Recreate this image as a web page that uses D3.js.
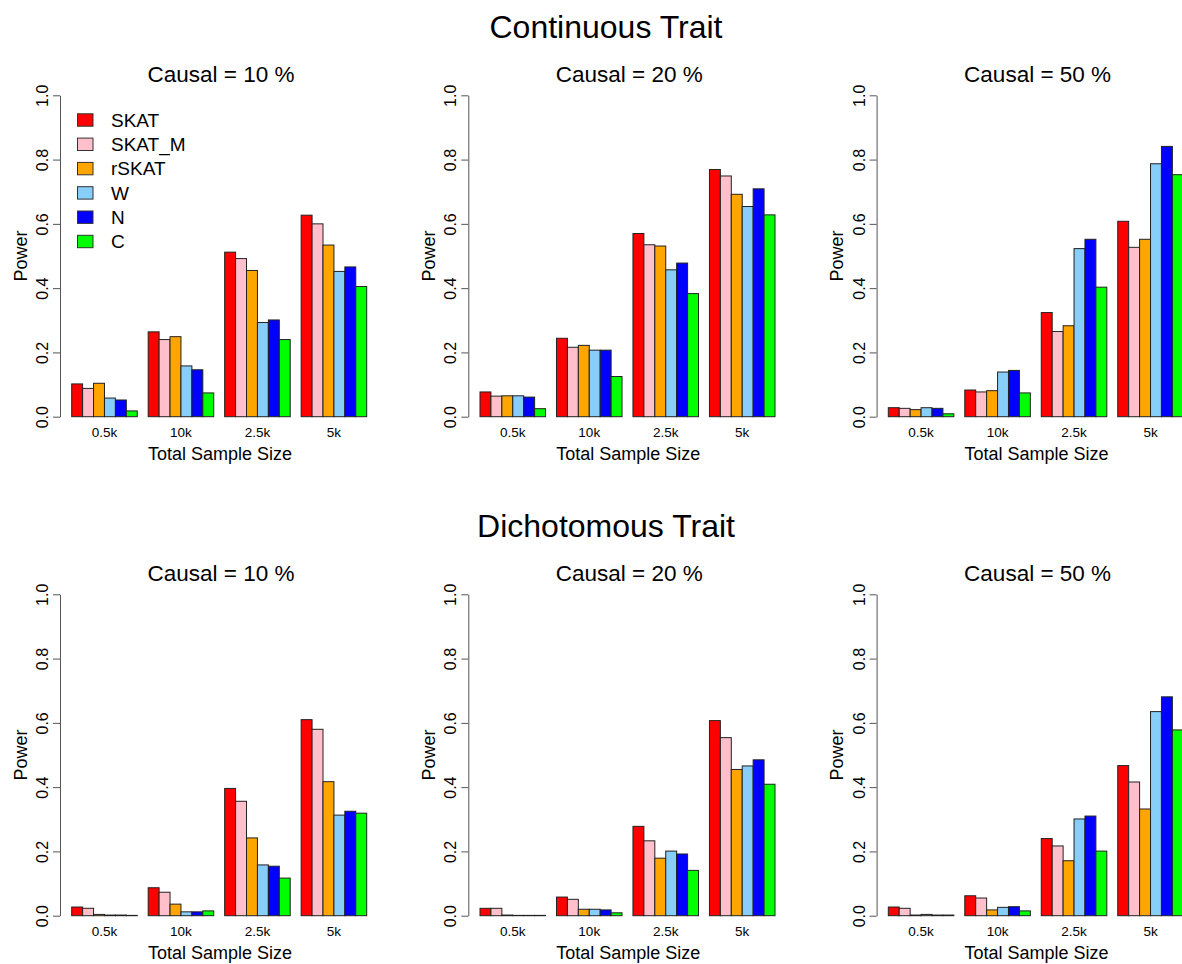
<!DOCTYPE html>
<html>
<head>
<meta charset="utf-8">
<script src="https://cdn.jsdelivr.net/npm/d3@7"></script>
<style>
  body { margin: 0; background: #fff; }
  svg { font-family: "Liberation Sans", Arial, Helvetica, sans-serif; display: block; }
</style>
</head>
<body>
<div id="chart"></div>
<script>
const sampleSizes = ["0.5k", "10k", "2.5k", "5k"];
const methods = ["SKAT", "SKAT_M", "rSKAT", "W", "N", "C"];
const methodColors = ["#ff0000", "#ffc0cb", "#ffa500", "#87cefa", "#0000ff", "#00ff00"];
const causalLabels = ["Causal = 10 %", "Causal = 20 %", "Causal = 50 %"];
const traitTitles = ["Continuous Trait", "Dichotomous Trait"];
const yTicks = [0, 0.2, 0.4, 0.6, 0.8, 1.0];

// power, one row per sample size, one value per method
const contTen = [
  [0.102, 0.088, 0.104, 0.058, 0.052, 0.018],
  [0.264, 0.240, 0.249, 0.158, 0.146, 0.074],
  [0.512, 0.492, 0.455, 0.293, 0.301, 0.240],
  [0.627, 0.600, 0.534, 0.452, 0.466, 0.405]
];
const contTwenty = [
  [0.077, 0.064, 0.065, 0.065, 0.061, 0.025],
  [0.244, 0.216, 0.222, 0.207, 0.207, 0.125],
  [0.570, 0.535, 0.531, 0.457, 0.478, 0.383],
  [0.769, 0.749, 0.692, 0.654, 0.709, 0.628]
];
const contFifty = [
  [0.028, 0.026, 0.022, 0.028, 0.026, 0.009],
  [0.083, 0.077, 0.081, 0.139, 0.144, 0.074],
  [0.324, 0.265, 0.283, 0.523, 0.552, 0.403],
  [0.608, 0.527, 0.552, 0.787, 0.841, 0.753]
];
const dichTen = [
  [0.027, 0.023, 0.004, 0.002, 0.002, 0.001],
  [0.087, 0.073, 0.036, 0.012, 0.012, 0.015],
  [0.396, 0.356, 0.242, 0.158, 0.154, 0.117],
  [0.610, 0.580, 0.417, 0.313, 0.325, 0.319]
];
const dichTwenty = [
  [0.023, 0.023, 0.002, 0.001, 0.001, 0.001],
  [0.058, 0.051, 0.020, 0.020, 0.018, 0.009],
  [0.278, 0.233, 0.179, 0.201, 0.192, 0.141],
  [0.607, 0.554, 0.455, 0.466, 0.485, 0.409]
];
const dichFifty = [
  [0.027, 0.023, 0.002, 0.004, 0.002, 0.002],
  [0.062, 0.055, 0.018, 0.026, 0.028, 0.015],
  [0.240, 0.217, 0.171, 0.301, 0.310, 0.201],
  [0.467, 0.416, 0.332, 0.635, 0.681, 0.578]
];
const panelData = [[contTen, contTwenty, contFifty], [dichTen, dichTwenty, dichFifty]];

const width = 1182, height = 964;
const colStep = 408.3, rowStep = 499;
const plotW = 318.5, axisTop = 95.3, axisBottom = 416.7;

const svg = d3.select("#chart").append("svg")
  .attr("width", width).attr("height", height)
  .attr("viewBox", "0 0 " + width + " " + height);
svg.append("rect").attr("width", width).attr("height", height).attr("fill", "#fff");

const color = d3.scaleOrdinal().domain(methods).range(methodColors);

traitTitles.forEach(function (title, r) {
  const oy = r * rowStep;
  svg.append("text")
    .attr("x", 606).attr("y", 38 + oy)
    .attr("text-anchor", "middle")
    .attr("font-size", "32px")
    .text(title);

  panelData[r].forEach(function (data, c) {
    const left = 60 + c * colStep;
    const g = svg.append("g").attr("transform", "translate(0," + oy + ")");

    const y = d3.scaleLinear().domain([0, 1]).range([axisBottom, axisTop]);
    const x0 = d3.scaleBand().domain(sampleSizes)
      .range([left + 11.7, left + 306.7])
      .paddingInner(1 / 7).paddingOuter(0);
    const x1 = d3.scaleBand().domain(methods).range([0, x0.bandwidth()]).padding(0);

    // bars
    const groups = g.selectAll("g.grp")
      .data(data)
      .enter().append("g")
      .attr("class", "grp")
      .attr("transform", function (d, i) { return "translate(" + x0(sampleSizes[i]) + ",0)"; });
    groups.selectAll("rect")
      .data(function (d) { return d.map(function (v, i) { return { key: methods[i], value: v }; }); })
      .enter().append("rect")
      .attr("x", function (d) { return x1(d.key); })
      .attr("y", function (d) { return y(d.value); })
      .attr("width", x1.bandwidth())
      .attr("height", function (d) { return y(0) - y(d.value); })
      .attr("fill", function (d) { return color(d.key); })
      .attr("stroke", "#222")
      .attr("stroke-width", 1);

    // y axis, R style: rotated labels
    const yAxis = g.append("g")
      .attr("transform", "translate(" + left + ",0)")
      .call(d3.axisLeft(y).tickValues(yTicks).tickSize(7).tickSizeOuter(0)
        .tickFormat(d3.format(".1f")));
    yAxis.select(".domain").attr("stroke", "#555");
    yAxis.selectAll(".tick line").attr("stroke", "#555");
    yAxis.selectAll(".tick text")
      .attr("font-size", "16px")
      .attr("fill", "#000")
      .attr("text-anchor", "middle")
      .attr("x", 0).attr("dy", 0)
      .attr("transform", "translate(-12,0) rotate(-90)");

    // group labels
    g.selectAll("text.grplab")
      .data(sampleSizes)
      .enter().append("text")
      .attr("class", "grplab")
      .attr("x", function (d) { return x0(d) + x0.bandwidth() / 2; })
      .attr("y", 437)
      .attr("text-anchor", "middle")
      .attr("font-size", "13.5px")
      .text(function (d) { return d; });

    g.append("text")
      .attr("x", left + 160).attr("y", 460)
      .attr("text-anchor", "middle")
      .attr("font-size", "18px")
      .text("Total Sample Size");

    g.append("text")
      .attr("transform", "translate(" + (left - 33.5) + "," + ((axisTop + axisBottom) / 2) + ") rotate(-90)")
      .attr("text-anchor", "middle")
      .attr("font-size", "18px")
      .text("Power");

    g.append("text")
      .attr("x", left + 161).attr("y", 82)
      .attr("text-anchor", "middle")
      .attr("font-size", "22.5px")
      .text(causalLabels[c]);

    // legend only in the first panel
    if (r === 0 && c === 0) {
      const leg = g.selectAll("g.leg")
        .data(methods)
        .enter().append("g")
        .attr("class", "leg")
        .attr("transform", function (d, i) { return "translate(77.5," + (120 + i * 24.3) + ")"; });
      leg.append("rect")
        .attr("x", 0).attr("y", -6.2)
        .attr("width", 15.5).attr("height", 12.4)
        .attr("fill", function (d) { return color(d); })
        .attr("stroke", "#333");
      leg.append("text")
        .attr("x", 33.5).attr("y", 0)
        .attr("dy", "0.36em")
        .attr("font-size", "19px")
        .text(function (d) { return d; });
    }
  });
});
</script>
</body>
</html>
